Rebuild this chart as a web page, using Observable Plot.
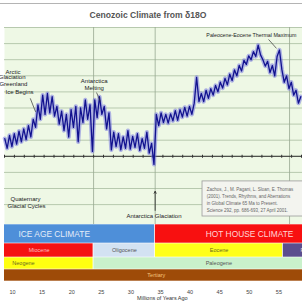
<!DOCTYPE html>
<html><head><meta charset="utf-8">
<script src="https://cdn.jsdelivr.net/npm/d3@7"></script>
<script src="https://cdn.jsdelivr.net/npm/@observablehq/plot@0.6"></script>
<style>
html,body{margin:0;padding:0;background:#fff;width:302px;height:302px;overflow:hidden;font-family:"Liberation Sans",Arial,sans-serif;}
#title{height:27px;position:relative;}
#title .rule{position:absolute;left:0;right:0;top:3px;height:1px;background:#b4b4b4;}
#title .txt{position:absolute;left:0;width:296px;top:11px;line-height:9px;text-align:center;font-weight:bold;font-size:8.6px;color:#555;}
svg{display:block}
</style></head><body>
<div id="title"><div class="rule"></div><div class="txt">Cenozoic Climate from δ18O</div></div>
<div id="chart"></div>
<script>
// ---- data: benthic δ18O (‰) vs age (millions of years ago)
const ageMa = [8.7,9.1,9.5,9.9,10.3,10.7,11.1,11.5,11.9,12.3,12.7,13.1,13.5,13.9,14.3,14.7,15.1,15.5,15.9,16.3,16.7,17.1,17.5,17.9,18.3,18.7,19.1,19.5,19.9,20.3,20.7,21.1,21.5,21.9,22.3,22.7,23.1,23.5,23.9,24.3,24.7,25.1,25.5,25.9,26.3,26.7,27.1,27.5,27.9,28.3,28.7,29.1,29.5,29.9,30.3,30.7,31.1,31.5,31.9,32.3,32.7,33.1,33.5,33.9,34.3,34.7,35.1,35.5,35.9,36.3,36.7,37.1,37.5,37.9,38.3,38.7,39.1,39.5,39.9,40.3,40.7,41.1,41.5,41.9,42.3,42.7,43.1,43.5,43.9,44.3,44.7,45.1,45.5,45.9,46.3,46.7,47.1,47.5,47.9,48.3,48.7,49.1,49.5,49.9,50.3,50.7,51.1,51.5,51.9,52.3,52.7,53.1,53.5,53.9,54.3,54.7,55.1,55.5,55.9,56.3,56.7,57.1,57.5,57.9,58.3,58.7];
const d18O = [2.45,2.75,2.35,2.70,2.30,2.62,2.22,2.55,2.15,2.48,2.05,2.40,1.85,2.10,1.40,1.85,1.10,1.70,1.05,1.65,1.15,1.75,1.45,2.00,1.60,2.20,1.70,2.40,1.55,2.10,1.45,2.55,1.50,1.95,1.25,1.85,1.40,2.85,1.25,1.80,1.15,1.70,1.45,2.15,1.65,2.80,2.25,2.70,2.30,2.80,2.40,2.75,2.20,2.78,2.38,2.72,2.30,2.82,2.45,2.75,2.25,2.90,2.60,3.25,1.70,2.05,1.65,1.95,1.70,1.97,1.68,1.90,1.58,1.88,1.55,1.78,1.48,1.75,1.45,1.70,1.35,0.55,1.30,1.05,1.30,0.95,1.20,0.90,1.10,0.80,1.00,0.70,0.88,0.58,0.78,0.45,0.65,0.32,0.50,0.18,0.35,0.02,0.15,-0.12,0.00,-0.25,-0.10,-0.45,-0.15,0.00,0.20,0.05,0.40,0.18,0.50,-0.10,-0.30,0.30,0.70,0.50,0.90,0.70,1.10,0.95,1.35,1.15];

const gridLevels = [-1,-0.5,0,0.5,1,1.5,2,2.5,3,3.5,4,4.5];
const boundaryAges = [23.7, 34.1, 56.8];
const referenceLevel = [3.0];
const xTicks = [10,15,20,25,30,35,40,45,50,55];
const axisLabel = "Millions of Years Ago";

const climateNames = ["ICE AGE CLIMATE","HOT HOUSE CLIMATE"];
const climateStart = [0, 34.1];
const climateEnd = [34.1, 66];
const epochNames = ["Miocene","Oligocene","Eocene","Paleocene"];
const epochStart = [5.3, 23.7, 34.1, 55.7];
const epochEnd = [23.7, 34.1, 55.7, 66];
const periodNames = ["Neogene","Paleogene"];
const periodStart = [0, 23.7];
const periodEnd = [23.7, 66];
const eraNames = ["Tertiary"];
const eraStart = [2.6];
const eraEnd = [66];

const noteText = ["Paleocene-Eocene Thermal Maximum","Antarctica","Melting","Arctic","Glaciation","Greenland","Ice Begins","Quaternary","Glacial Cycles","Antarctica Glaciation"];
const noteAge = [42.75, 23.8, 23.8, 11.35, 12.2, 12.53, 13.55, 14.73, 15.58, 33.9];
const noteLevel = [-0.75, 0.67, 0.89, 0.37, 0.55, 0.77, 1.02, 4.34, 4.56, 4.87];
const noteAnchor = ["start","middle","middle","end","end","end","end","end","end","middle"];
const noteSize = [5.3, 6, 6, 6, 6, 6, 6, 6, 6, 6];

const pointerFromAge = [13.0, 24.2, 53.25];
const pointerFromLevel = [1.20, 1.02, -0.63];
const pointerToAge = [13.9, 24.85, 54.6];
const pointerToLevel = [1.62, 1.30, -0.35];

const citationText = "Zachos, J., M. Pagani, L. Sloan, E. Thomas\n(2001). Trends, Rhythms, and Aberrations\nin Global Climate 65 Ma to Present.\nScience 292, pp. 686-693, 27 April 2001.";
const citationBox = {x1: 42.1, x2: 60, y1: 3.78, y2: 4.87, tx: 42.8, ty: 3.93};
const glaciationArrow = {age: 34.1, from: 4.68, to: 4.09};

// ---- styles
const W = 302;
const FONT = "'Liberation Sans', Arial, sans-serif";
const xOpts = {domain: [8.65, 58.99], axis: null};
const climateFill = ["#4e8fd9","#f81010"], climateInk = ["#e4ecf8","#ffd6d6"];
const epochFill = ["#f51212","#d3e2f2","#ffff1a","#5b4e8e"], epochInk = ["#ffc0c0","#555","#6a6a20","#ddd"];
const periodFill = ["#ffff10","#c9f1cb"], periodInk = ["#6a6a20","#555"];
const eraFill = ["#9e4b08"], eraInk = ["#f6c37a"];

const series = ageMa.map((a, i) => ({age: a, d: d18O[i]}));
const notes = noteText.map((t, i) => ({text: t, age: noteAge[i], level: noteLevel[i], anchor: noteAnchor[i], size: noteSize[i]}));
const pointers = pointerFromAge.map((a, i) => ({x1: a, y1: pointerFromLevel[i], x2: pointerToAge[i], y2: pointerToLevel[i]}));
const noteMarks = ["start","middle","end"].map(anchor =>
  Plot.text(notes.filter(d => d.anchor === anchor), {x: "age", y: "level", text: "text", textAnchor: anchor, fontSize: d => d.size, fill: "#222"}));

const chart = document.getElementById("chart");

const main = Plot.plot({
  width: W, height: 197,
  marginLeft: 4, marginRight: 0, marginTop: 0, marginBottom: 0,
  style: {fontFamily: FONT, overflow: "hidden", background: "#fff"},
  x: xOpts,
  y: {domain: [-1, 5.118], reverse: true, axis: null},
  marks: [
    Plot.frame({fill: "#eef8e5"}),
    Plot.ruleY(gridLevels, {stroke: "#b7c9ae", strokeWidth: 1}),
    Plot.ruleX(boundaryAges, {stroke: "#98a892", strokeWidth: 0.8}),
    Plot.ruleY(referenceLevel, {stroke: "#333", strokeWidth: 1}),
    Plot.ruleY(referenceLevel, {stroke: "#333", strokeWidth: 3, strokeDasharray: "1,8.9"}),
    Plot.rect([citationBox], {x1: "x1", x2: "x2", y1: "y1", y2: "y2", fill: "#f3f4ef", stroke: "#9a9a9a", strokeWidth: 0.8, clip: true}),
    Plot.text([citationBox], {x: "tx", y: "ty", text: () => citationText, textAnchor: "start", lineAnchor: "top", lineHeight: 1.55, fontSize: 4.5, fill: "#666"}),
    Plot.line(series, {x: "age", y: "d", stroke: "#6e6ee0", strokeWidth: 4.2, strokeOpacity: 0.5}),
    Plot.line(series, {x: "age", y: "d", stroke: "#12128f", strokeWidth: 1.3}),
    Plot.link(pointers, {x1: "x1", y1: "y1", x2: "x2", y2: "y2", stroke: "#333", strokeWidth: 0.7}),
    Plot.arrow([glaciationArrow], {x: "age", y1: "from", y2: "to", stroke: "#222", strokeWidth: 0.8, headLength: 4, bend: 0}),
    ...noteMarks
  ]
});
chart.appendChild(main);

function bandRow(names, starts, ends, fills, inks, h, fs, extra = {}) {
  const rows = names.map((n, i) => ({name: n, start: starts[i], end: ends[i], mid: (starts[i] + ends[i]) / 2, fill: fills[i], ink: inks[i]}));
  return Plot.plot({
    width: W, height: h,
    marginLeft: 4, marginRight: 0, marginTop: 0, marginBottom: 0,
    style: {fontFamily: FONT, overflow: "hidden", background: "#fff"},
    x: xOpts,
    color: {type: "identity"},
    marks: [
      Plot.rect(rows, {x1: "start", x2: "end", fill: d => d.fill, stroke: "#fff", strokeWidth: 0.6, clip: true}),
      Plot.text(rows, {x: "mid", text: "name", fill: d => d.ink, fontSize: fs, clip: true, ...extra})
    ]
  });
}

chart.appendChild(bandRow(climateNames, climateStart, climateEnd, climateFill, climateInk, 19, 8.4));
chart.appendChild(bandRow(epochNames, epochStart, epochEnd, epochFill, epochInk, 14, 5.5));
chart.appendChild(bandRow(periodNames, periodStart, periodEnd, periodFill, periodInk, 12, 5.5));
chart.appendChild(bandRow(eraNames, eraStart, eraEnd, eraFill, eraInk, 12, 5.5));

const axis = Plot.plot({
  width: W, height: 21,
  marginLeft: 4, marginRight: 0, marginTop: 0, marginBottom: 13,
  style: {fontFamily: FONT, overflow: "hidden", background: "#fff", color: "#444"},
  x: xOpts,
  marks: [
    Plot.axisX(xTicks, {tickSize: 0, tickPadding: 1, fontSize: 5.5, label: null}),
    Plot.text([axisLabel], {x: () => 35.3, text: d => d, frameAnchor: "bottom", dy: 10, fontSize: 5.5, fill: "#333"})
  ]
});
chart.appendChild(axis);
</script>
</body></html>
